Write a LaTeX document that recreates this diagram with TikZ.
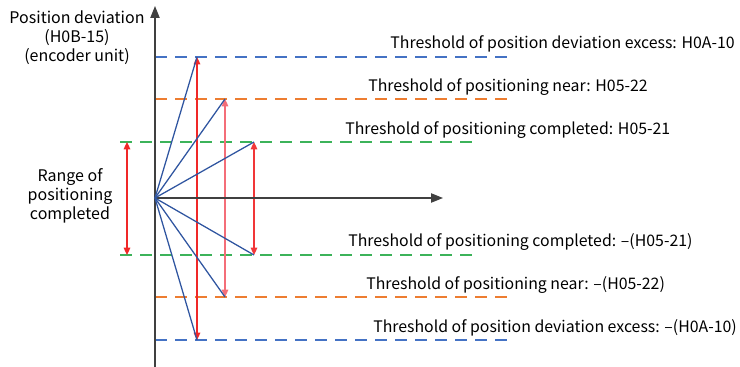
\documentclass[tikz,border=0pt]{standalone}
\usepackage{fontspec}
\setmainfont{Noto Sans CJK SC}
\usetikzlibrary{arrows.meta}
\definecolor{dblue}{RGB}{68,114,196}
\definecolor{dorange}{RGB}{237,125,49}
\definecolor{dgreen}{RGB}{60,179,90}
\definecolor{lblue}{RGB}{47,85,160}
\definecolor{ared}{RGB}{240,40,40}
\definecolor{pred}{RGB}{244,110,120}
\tikzset{
  lbl/.style={font=\fontsize{11.9pt}{14.3pt}\selectfont, inner sep=0pt, text=black},
  llbl/.style={font=\fontsize{12pt}{14.4pt}\selectfont, inner sep=0pt, text=black, align=center},
  thr/.style={dashed, dash pattern=on 9pt off 6pt, line width=0.8pt},
  ray/.style={lblue, line width=0.95pt},
  rng/.style={line width=0.85pt, {Triangle[width=5pt,length=5.5pt]}-{Triangle[width=5pt,length=5.5pt]}},
  axis/.style={line width=0.9pt, black!75, -{Triangle[width=7pt,length=9pt]}}
}
\begin{document}
\begin{tikzpicture}[x=0.75pt,y=-0.75pt]
\useasboundingbox (0,0) rectangle (740,367);
% coordinates
\coordinate (O) at (155,198);
\coordinate (ybot) at (155,367);
\coordinate (ytop) at (155,6);
\coordinate (xend) at (443,198);
% threshold lines
\coordinate (b1l) at (155,57);  \coordinate (b1r) at (507,57);
\coordinate (o1l) at (155,99);  \coordinate (o1r) at (507,99);
\coordinate (g1l) at (120,142); \coordinate (g1r) at (473,142);
\coordinate (g2l) at (120,255); \coordinate (g2r) at (473,255);
\coordinate (o2l) at (155,297); \coordinate (o2r) at (507,297);
\coordinate (b2l) at (155,340); \coordinate (b2r) at (507,340);
\draw[thr, dblue] (b1l) -- (b1r);
\draw[thr, dorange] (o1l) -- (o1r);
\draw[thr, dgreen] (g1l) -- (g1r);
\draw[thr, dgreen] (g2l) -- (g2r);
\draw[thr, dorange] (o2l) -- (o2r);
\draw[thr, dblue] (b2l) -- (b2r);
% peaks
\coordinate (p1) at (197,57);
\coordinate (p2) at (225,99);
\coordinate (p3) at (254,142);
\coordinate (q3) at (254,255);
\coordinate (q2) at (225,297);
\coordinate (q1) at (197,340);
\coordinate (r1) at (127,142);
\coordinate (r2) at (127,255);
% red arrows
\draw[rng, ared] (q1) -- (p1);
\draw[rng, pred] (q2) -- (p2);
\draw[rng, ared!80!pred] (q3) -- (p3);
\draw[rng, ared] (r2) -- (r1);
% axes
\draw[axis] (ybot) -- (ytop);
\draw[axis] (O) -- (xend);
% rays
\foreach \p in {p1,p2,p3,q3,q2,q1} \draw[ray] (O) -- (\p);
% labels
\node[llbl] (ylab) at (77,38) {Position deviation\\(H0B-15)\\(encoder unit)};
\node[llbl] (rlab) at (70,196) {Range of\\positioning\\completed};
\node[lbl, anchor=east] (t1) at (735,44) {Threshold of position deviation excess: H0A-10};
\node[lbl, anchor=west] (t2) at (368,87) {Threshold of positioning near: H05-22};
\node[lbl, anchor=west] (t3) at (345,130) {Threshold of positioning completed: H05-21};
\node[lbl, anchor=west] (t4) at (348,242) {Threshold of positioning completed: –(H05-21)};
\node[lbl, anchor=west] (t5) at (366,285) {Threshold of positioning near: –(H05-22)};
\node[lbl, anchor=west] (t6) at (373,328) {Threshold of position deviation excess: –(H0A-10)};
\end{tikzpicture}
\end{document}
